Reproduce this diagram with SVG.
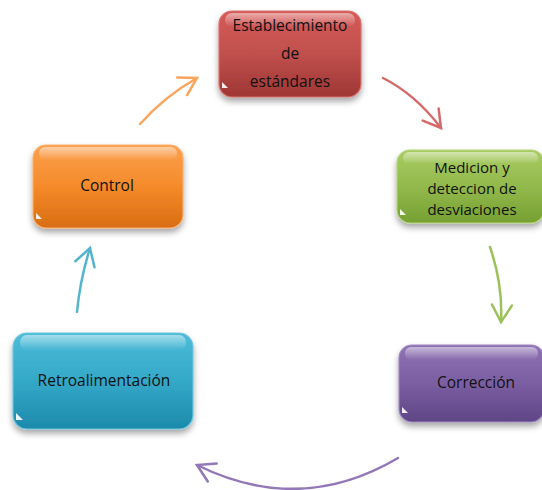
<svg xmlns="http://www.w3.org/2000/svg" width="542" height="490" viewBox="0 0 542 490">
<defs>
<filter id="sh" x="-20%" y="-20%" width="140%" height="150%"><feDropShadow dx="0" dy="4" stdDeviation="3" flood-color="#000" flood-opacity="0.35"/></filter>
<linearGradient id="gRed" x1="0" y1="0" x2="0" y2="1"><stop offset="0" stop-color="#d65a57"/><stop offset="0.5" stop-color="#c0504d"/><stop offset="1" stop-color="#9e3633"/></linearGradient>
<linearGradient id="gGreen" x1="0" y1="0" x2="0" y2="1"><stop offset="0" stop-color="#a9cc62"/><stop offset="0.5" stop-color="#92b94c"/><stop offset="1" stop-color="#76a032"/></linearGradient>
<linearGradient id="gPurple" x1="0" y1="0" x2="0" y2="1"><stop offset="0" stop-color="#8e72b3"/><stop offset="0.5" stop-color="#7b5ea2"/><stop offset="1" stop-color="#5f4585"/></linearGradient>
<linearGradient id="gBlue" x1="0" y1="0" x2="0" y2="1"><stop offset="0" stop-color="#4cbcd8"/><stop offset="0.5" stop-color="#34a8c8"/><stop offset="1" stop-color="#1c8aab"/></linearGradient>
<linearGradient id="gOrange" x1="0" y1="0" x2="0" y2="1"><stop offset="0" stop-color="#fba04e"/><stop offset="0.5" stop-color="#f58a2a"/><stop offset="1" stop-color="#d86d12"/></linearGradient>
<linearGradient id="gloss" x1="0" y1="0" x2="0" y2="1"><stop offset="0" stop-color="#fff" stop-opacity="0.5"/><stop offset="1" stop-color="#fff" stop-opacity="0"/></linearGradient>
<marker id="mOr" markerUnits="userSpaceOnUse" markerWidth="40" markerHeight="40" refX="0" refY="0" viewBox="-20 -20 40 40" orient="auto"><path d="M-17,-10 L0,0 L-17,10" fill="none" stroke="#f9a55e" stroke-width="2.5" stroke-linecap="round"/></marker>
<marker id="mRd" markerUnits="userSpaceOnUse" markerWidth="40" markerHeight="40" refX="0" refY="0" viewBox="-20 -20 40 40" orient="auto"><path d="M-17,-10 L0,0 L-17,10" fill="none" stroke="#d4696a" stroke-width="2.5" stroke-linecap="round"/></marker>
<marker id="mGr" markerUnits="userSpaceOnUse" markerWidth="40" markerHeight="40" refX="0" refY="0" viewBox="-20 -20 40 40" orient="auto"><path d="M-17,-10 L0,0 L-17,10" fill="none" stroke="#9bc25a" stroke-width="2.5" stroke-linecap="round"/></marker>
<marker id="mPu" markerUnits="userSpaceOnUse" markerWidth="40" markerHeight="40" refX="0" refY="0" viewBox="-20 -20 40 40" orient="auto"><path d="M-17,-10 L0,0 L-17,10" fill="none" stroke="#9378b8" stroke-width="2.5" stroke-linecap="round"/></marker>
<marker id="mBl" markerUnits="userSpaceOnUse" markerWidth="40" markerHeight="40" refX="0" refY="0" viewBox="-20 -20 40 40" orient="auto"><path d="M-17,-10 L0,0 L-17,10" fill="none" stroke="#52b4cf" stroke-width="2.5" stroke-linecap="round"/></marker>
</defs>
<style>
.box{filter:url(#sh);stroke-width:1.2}
.gl{fill:url(#gloss)}
.tri{fill:#fff;opacity:0.9}
.lbl{font-family:"Open Sans","Liberation Sans",sans-serif;font-size:15.5px;fill:#111;text-anchor:middle}
.sm{font-size:15px}
.ar{fill:none;stroke-width:2.5;stroke-linecap:round}
</style>
<g id="connectors">
<path class="ar" d="M140,124 Q165,96 197,78" stroke="#f9a55e" marker-end="url(#mOr)"/>
<path class="ar" d="M383,78 Q415,94 441,128" stroke="#d4696a" marker-end="url(#mRd)"/>
<path class="ar" d="M490,247 Q503,285 501,322" stroke="#9bc25a" marker-end="url(#mGr)"/>
<path class="ar" d="M398,458 Q300,516 197,465" stroke="#9378b8" marker-end="url(#mPu)"/>
<path class="ar" d="M77,312 Q80,280 90,248" stroke="#52b4cf" marker-end="url(#mBl)"/>
</g>
<g id="n-establecimiento">
<rect class="box" x="219" y="11" width="142" height="86" rx="13" fill="url(#gRed)" stroke="#d8716e"/>
<rect class="gl" x="225" y="13" width="130" height="14" rx="7"/>
<path class="tri" d="M222,88 L222,82 L228,88 Z"/>
<text class="lbl" x="290" y="31">Establecimiento</text>
<text class="lbl" x="290" y="59">de</text>
<text class="lbl" x="290" y="87">estándares</text>
</g>
<g id="n-medicion">
<rect class="box" x="397" y="150" width="147" height="73" rx="13" fill="url(#gGreen)" stroke="#b3d47a"/>
<rect class="gl" x="403" y="152" width="135" height="12" rx="6"/>
<path class="tri" d="M400,215 L400,209 L406,215 Z"/>
<text class="lbl sm" x="472" y="173">Medicion y</text>
<text class="lbl sm" x="472" y="194">deteccion de</text>
<text class="lbl sm" x="472" y="215">desviaciones</text>
</g>
<g id="n-correccion">
<rect class="box" x="399" y="345" width="145" height="77" rx="13" fill="url(#gPurple)" stroke="#9f86c2"/>
<rect class="gl" x="405" y="347" width="133" height="13" rx="6"/>
<path class="tri" d="M402,413 L402,407 L408,413 Z"/>
<text class="lbl" x="476" y="388">Corrección</text>
</g>
<g id="n-retroalimentacion">
<rect class="box" x="13" y="333" width="180" height="96" rx="14" fill="url(#gBlue)" stroke="#6cc6de"/>
<rect class="gl" x="20" y="335" width="166" height="15" rx="7"/>
<path class="tri" d="M16,420 L16,413 L23,420 Z"/>
<text class="lbl" x="104" y="386">Retroalimentación</text>
</g>
<g id="n-control">
<rect class="box" x="33" y="145" width="150" height="83" rx="13" fill="url(#gOrange)" stroke="#fbb06e"/>
<rect class="gl" x="39" y="147" width="138" height="13" rx="6"/>
<path class="tri" d="M36,219 L36,213 L42,219 Z"/>
<text class="lbl" x="107" y="191">Control</text>
</g>
</svg>
